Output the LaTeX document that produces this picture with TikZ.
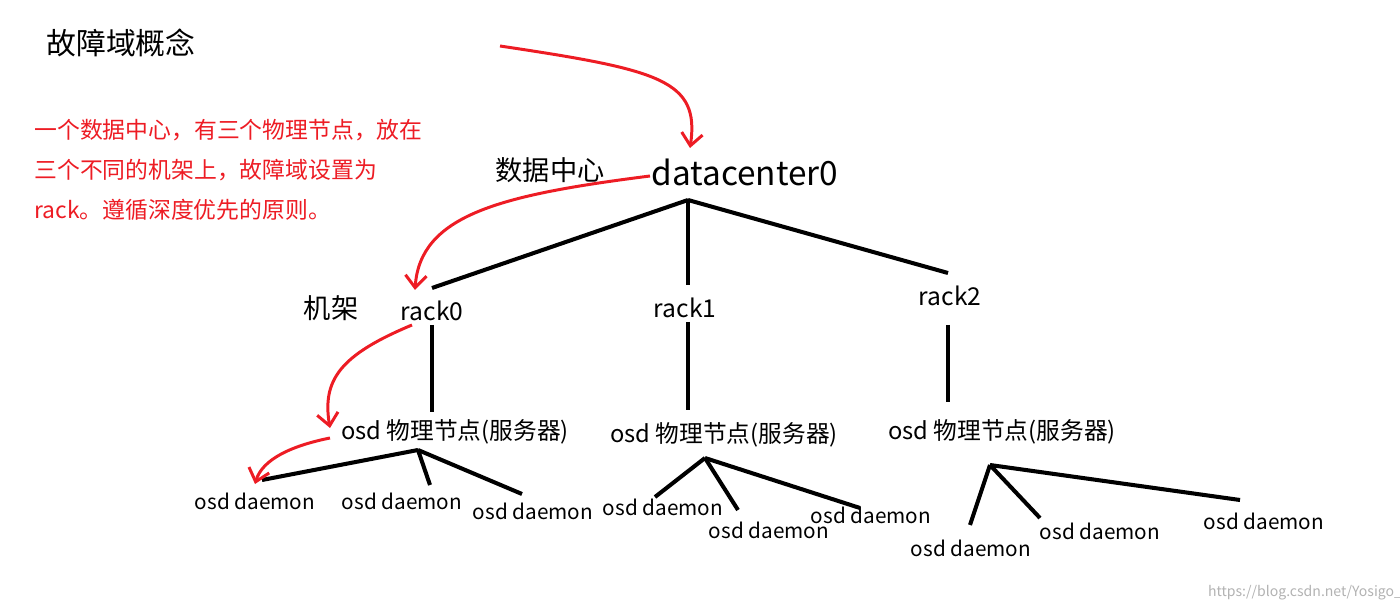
\documentclass[tikz,border=0pt]{standalone}
\usepackage{fontspec}
\setmainfont{Noto Sans CJK SC}
\usetikzlibrary{arrows.meta}
\definecolor{myred}{RGB}{237,28,36}
\tikzset{
  blk/.style={line width=2.3pt,black},
  rarr/.style={line width=1.7pt,myred,-{Straight Barb[length=7pt,width=12pt]}},
  lbl/.style={inner sep=0pt,font=\fontsize{11.8}{13}\selectfont},
  osd/.style={inner sep=0pt,font=\fontsize{13.5}{15}\selectfont},
  rk/.style={inner sep=0pt,font=\fontsize{14}{16}\selectfont},
  red/.style={inner sep=0pt,anchor=west,text=myred,font=\fontsize{13}{15}\selectfont},
}
\begin{document}
\begin{tikzpicture}[x=0.02cm,y=-0.02cm]
\useasboundingbox (0,0) rectangle (1400,611);
\node[inner sep=0pt,font=\fontsize{17}{20}\selectfont] (title) at (121,43) {故障域概念};
\node[red] (t1) at (34,130) {一个数据中心，有三个物理节点，放在};
\node[red] (t2) at (34,170) {三个不同的机架上，故障域设置为};
\node[red] (t3) at (34,210) {rack。遵循深度优先的原则。};
\node[inner sep=0pt,font=\fontsize{15.5}{17}\selectfont] (zh1) at (550,170) {数据中心};
\node[inner sep=0pt,font=\fontsize{19}{21}\selectfont] (dc) at (745,172) {datacenter0};
\node[inner sep=0pt,font=\fontsize{15.5}{17}\selectfont] (zh2) at (331,308) {机架};
\node[rk] (r0) at (432,311) {rack0};
\node[rk] (r1) at (685,308) {rack1};
\node[rk] (r2) at (950,296) {rack2};
\node[osd] (o0) at (455,432) {osd 物理节点(服务器)};
\node[osd] (o1) at (724,435) {osd 物理节点(服务器)};
\node[osd] (o2) at (1002,432) {osd 物理节点(服务器)};
\foreach \n/\x/\y in {a/255/501,b/402/501,c/533/511,d/663/507,e/769/530,f/871/515,g/971/548,h/1100/531,i/1264/521}
  \node[lbl] (d\n) at (\x,\y) {osd daemon};
\node[inner sep=0pt,text=gray!60,font=\fontsize{8}{10}\selectfont] (wm) at (1305,593) {https://blog.csdn.net/Yosigo\_};
% tree lines
\coordinate (dcb) at (688,200);
\draw[blk] (dcb) -- (432,288);
\draw[blk] (dcb) -- (688,285);
\draw[blk] (dcb) -- (948,273);
\draw[blk] (432,325) -- (432,412);
\draw[blk] (688,322) -- (688,410);
\draw[blk] (948,325) -- (948,402);
\draw[blk] (418,450) -- (262,480);
\draw[blk] (418,450) -- (430,485);
\draw[blk] (418,450) -- (522,494);
\draw[blk] (705,458) -- (655,497);
\draw[blk] (705,458) -- (738,510);
\draw[blk] (705,458) -- (860,508);
\draw[blk] (990,465) -- (970,525);
\draw[blk] (990,465) -- (1040,518);
\draw[blk] (990,465) -- (1240,500);
% red arrows
\draw[rarr] (500,46) .. controls (660,70) and (700,80) .. (690,148);
\draw[rarr] (650,176) .. controls (500,195) and (420,215) .. (415,290);
\draw[rarr] (412,325) .. controls (340,355) and (322,380) .. (330,428);
\draw[rarr] (330,438) .. controls (290,446) and (262,460) .. (255,484);
\end{tikzpicture}
\end{document}
